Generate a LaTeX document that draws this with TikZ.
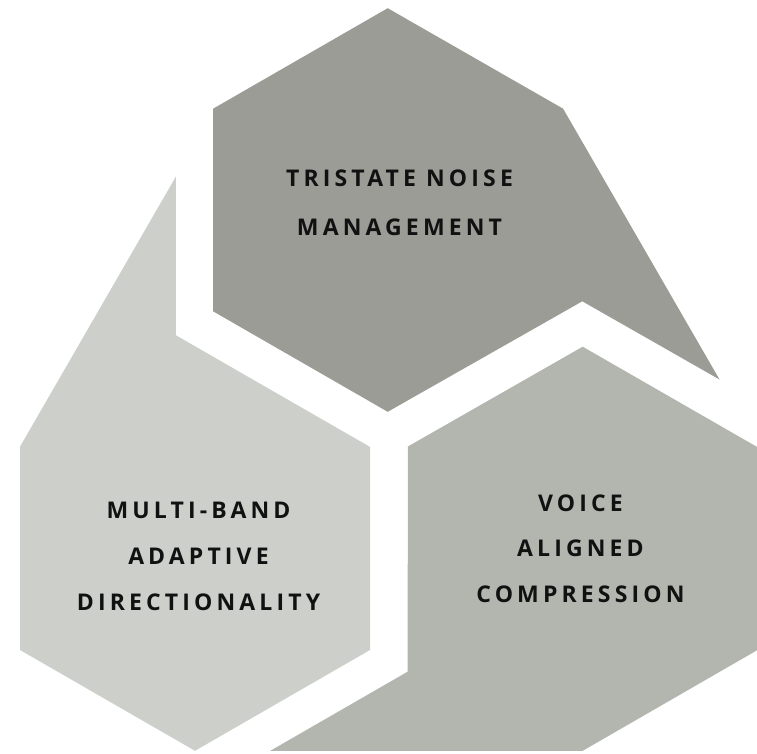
\documentclass[tikz,border=0pt]{standalone}
\usepackage{fontspec}
\setmainfont{Open Sans}[LetterSpace=18]
\definecolor{topgray}{HTML}{9A9C95}
\definecolor{leftgray}{HTML}{CDCFCA}
\definecolor{rightgray}{HTML}{B3B5AF}
\definecolor{labelink}{HTML}{111111}
\begin{document}
\begin{tikzpicture}[x=1pt,y=-1pt,
  panel/.style={draw=none},
  label/.style={inner sep=0pt, align=center, text=labelink,
    font=\fontsize{23}{47}\selectfont\bfseries}]
\useasboundingbox (0,0) rectangle (757,754);
% top panel
\fill[panel, topgray] (213.1,108.7) -- (387.7,8.2) -- (563.1,108.7) -- (719.5,379.5)
  -- (582.3,301.3) -- (387.7,411.8) -- (213.1,311.3) -- cycle;
% left panel
\fill[panel, leftgray] (20,446.7) -- (175.8,176.7) -- (175.8,335.2) -- (370,446.9)
  -- (370,650) -- (195,750.8) -- (20,650) -- cycle;
% right panel
\fill[panel, rightgray] (582.7,346.7) -- (757.5,447.2) -- (757.5,650) -- (582.7,750.8)
  -- (270.3,750.8) -- (407.6,671.7) -- (407.9,446.5) -- cycle;
\node[label, font=\fontsize{23}{49}\selectfont\bfseries] (tn) at (399.5,202.5) {TRISTATE NOISE\\MANAGEMENT};
\node[label, font=\fontsize{23}{46}\selectfont\bfseries] (mb) at (198.5,556.5) {MULTI-BAND\\ADAPTIVE\\DIRECTIONALITY};
\node[label, font=\fontsize{23}{45.7}\selectfont\bfseries] (vc) at (580.5,548.6) {VOICE\\ALIGNED\\COMPRESSION};
\end{tikzpicture}
\end{document}
